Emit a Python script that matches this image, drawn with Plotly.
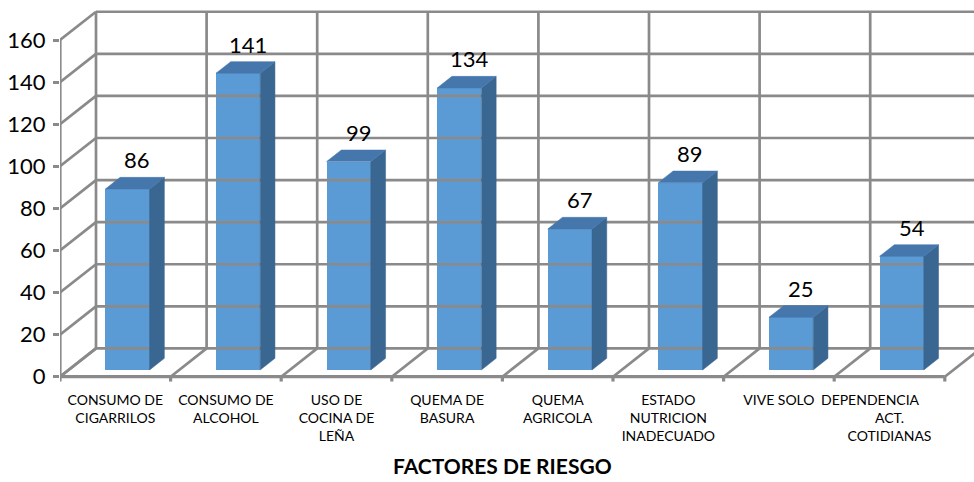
import plotly.graph_objects as go

# ---- data ----
categories = [
    "CONSUMO DE<br>CIGARRILOS",
    "CONSUMO DE<br>ALCOHOL",
    "USO DE<br>COCINA DE<br>LEÑA",
    "QUEMA DE<br>BASURA",
    "QUEMA<br>AGRICOLA",
    "ESTADO<br>NUTRICION<br>INADECUADO",
    "VIVE SOLO",
    "DEPENDENCIA" + "&nbsp;" * 11 + "<br>ACT.<br>COTIDIANAS",
]
values = [86, 141, 99, 134, 67, 89, 25, 54]
y_ticks = [0, 20, 40, 60, 80, 100, 120, 140, 160]
x_title = "FACTORES DE RIESGO"

# ---- pseudo-3D geometry (in axis units) ----
PX_PER_CAT = 110.6
PX_PER_VAL = 2.104
DX = 36 / PX_PER_CAT          # depth offset along x (category units)
DY = 28.3 / PX_PER_VAL        # depth offset along y (value units)
D0, D1 = 0.24, 0.65           # bar front / back depth fraction
A, W = 0.332, 0.40            # bar offset inside category and bar width
N = len(values)
YMAX = y_ticks[-1]

GRID = "#8a8a8a"
FRONT = "#5B9BD5"
SIDE = "#3A6791"
TOP = "#4576AC"


def P(x, y, d):
    return x + d * DX, y + d * DY


fig = go.Figure()


def seg_trace(segs, color, width):
    xs, ys = [], []
    for (x1, y1), (x2, y2) in segs:
        xs += [x1, x2, None]
        ys += [y1, y2, None]
    fig.add_trace(go.Scatter(x=xs, y=ys, mode="lines",
                             line=dict(color=color, width=width),
                             hoverinfo="skip", showlegend=False))


# back wall horizontals + left wall diagonals
segs = []
for v in y_ticks:
    segs.append((P(0, v, 1), P(N + 1, v, 1)))
    segs.append((P(0, v, 0), P(0, v, 1)))
# back wall verticals + floor diagonals
for c in range(N + 1):
    segs.append((P(c, 0, 1), P(c, YMAX, 1)))
    segs.append((P(c, 0, 0), P(c, 0, 1)))
seg_trace(segs, GRID, 2.7)

# front axis lines and floor ticks
segs = [(P(0, 0, 0), P(0, YMAX, 0)), (P(0, 0, 0), P(N, 0, 0))]
for c in range(N + 1):
    segs.append(((c, 0), (c, -2.3)))
seg_trace(segs, GRID, 3.2)

# bars: front faces
fig.add_trace(go.Bar(
    x=[c + A + W / 2 + D0 * DX for c in range(N)],
    y=values,
    base=[D0 * DY] * N,
    width=W,
    marker=dict(color=FRONT, line=dict(width=0)),
    hoverinfo="skip", showlegend=False,
))

# bars: side and top faces
for c, v in enumerate(values):
    xl, xr = c + A, c + A + W
    side = [P(xr, 0, D0), P(xr, v, D0), P(xr, v, D1), P(xr, 0, D1), P(xr, 0, D0)]
    top = [P(xl, v, D0), P(xr, v, D0), P(xr, v, D1), P(xl, v, D1), P(xl, v, D0)]
    for poly, col in ((side, SIDE), (top, TOP)):
        fig.add_trace(go.Scatter(
            x=[p[0] for p in poly], y=[p[1] for p in poly],
            mode="lines", fill="toself", fillcolor=col,
            line=dict(color=col, width=0.5),
            hoverinfo="skip", showlegend=False))

# value labels
for c, v in enumerate(values):
    fig.add_annotation(x=c + 0.70, y=v + D1 * DY, text=str(v),
                       showarrow=False, yanchor="bottom", yshift=2,
                       font=dict(family="Lato", size=22, color="#000000"))

# axis title
fig.add_annotation(xref="paper", yref="paper", x=(502 - 60) / 914,
                   y=-(465 - 382) / 382, text="<b>" + x_title + "</b>",
                   showarrow=False, yanchor="middle",
                   font=dict(family="Lato", size=21, color="#000000"))

L, R, T, B = 60, 0, 0, 100
W_PX, H_PX = 974, 482
plot_w = W_PX - L - R
plot_h = H_PX - T - B
y_top = 376.7 / PX_PER_VAL
y_bot = y_top - plot_h / PX_PER_VAL

fig.update_layout(
    width=W_PX, height=H_PX,
    margin=dict(l=L, r=R, t=T, b=B),
    plot_bgcolor="white", paper_bgcolor="white",
    bargap=0,
    xaxis=dict(range=[0, plot_w / PX_PER_CAT],
               tickvals=[c + 0.5 for c in range(N)], ticktext=categories,
               ticks="", showgrid=False, zeroline=False, showline=False,
               tickangle=0, ticklabelstandoff=8, ticklabeloverflow="allow",
               tickfont=dict(family="Lato", size=14, color="#000000")),
    yaxis=dict(range=[y_bot, y_top], tickvals=y_ticks,
               ticks="outside", ticklen=6, tickwidth=2.5, tickcolor=GRID,
               showgrid=False, zeroline=False, showline=False,
               ticklabelstandoff=3,
               tickfont=dict(family="Lato", size=22, color="#000000")),
)

fig.write_html("out.html")
